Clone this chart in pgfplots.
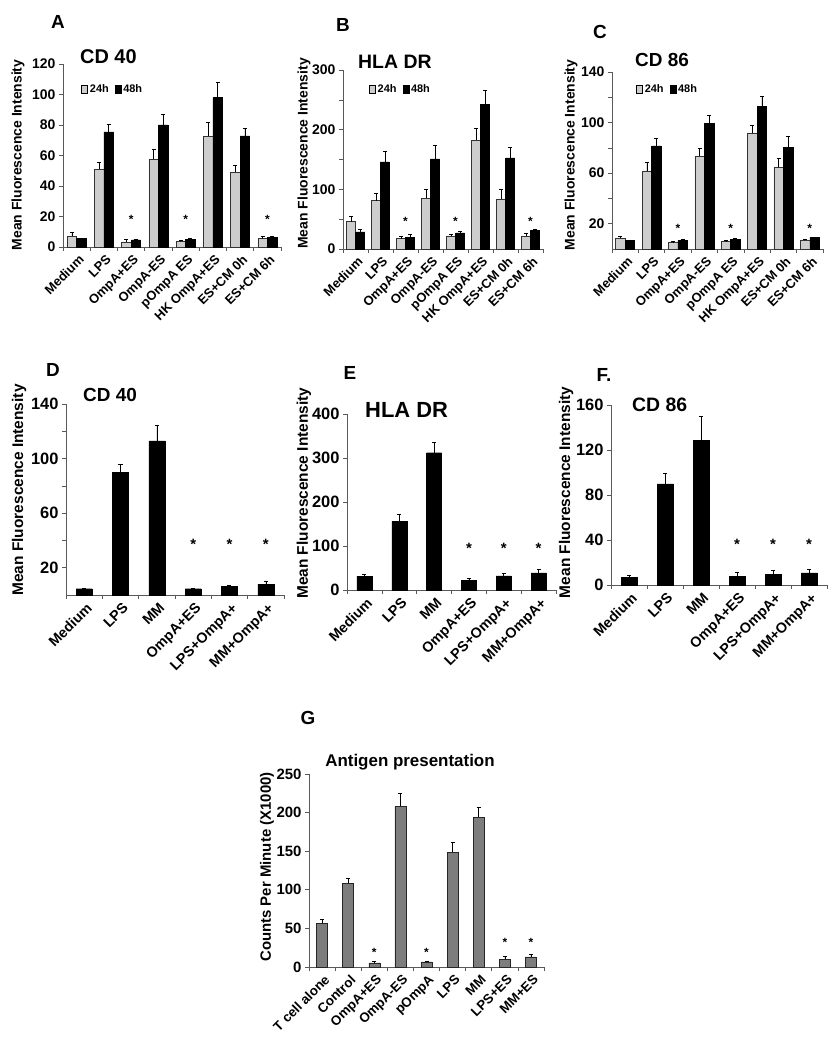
\documentclass[border=0pt]{standalone}
\usepackage{fontspec}
\setmainfont{Liberation Sans}
\usepackage{pgfplots}
\pgfplotsset{compat=1.18}
\definecolor{lgray}{RGB}{205,205,205}
\definecolor{mgray}{RGB}{125,125,125}
\newcommand{\fs}[1]{\fontsize{#1}{#1}\selectfont\bfseries}
\pgfplotsset{
  panel/.style={
    scale only axis, anchor=south west, clip=false,
    axis x line*=bottom, axis y line*=left,
    axis line style={line width=0.6bp, black!65},
    xmin=-0.5, ymin=0, enlargelimits=false,
    major x tick style={draw=none},
    tick style={line width=0.6bp, black!65},
    tick align=outside, major tick length=4bp, minor tick length=4bp,
    xticklabel style={rotate=45, anchor=north east, inner sep=1bp, yshift=-2bp},
    /pgf/number format/assume math mode=true,
    ybar,
    error bars/y dir=plus, error bars/y explicit,
    error bars/error bar style={black, line width=0.6bp},
    error bars/error mark options={black, rotate=90, mark size=2bp, line width=0.6bp},
    legend style={draw=none, fill=none, legend columns=2, anchor=west,
      /tikz/every even column/.append style={column sep=4bp}},
  },
  topcats/.style={xmax=7.5, xtick={0,...,7}, minor xtick={-0.5,0.5,...,7.5},
    xticklabels={Medium,LPS,OmpA+ES,OmpA-ES,pOmpA ES,HK OmpA+ES,ES+CM 0h,ES+CM 6h},
    xticklabel style={font=\fs{13}}, yticklabel style={font=\fs{14}},
    ylabel style={font=\fs{14}, anchor=center},
    legend style={font=\fs{11}}},
  botcats/.style={xmax=5.5, xtick={0,...,5}, minor xtick={-0.5,0.5,...,5.5},
    xticklabels={Medium,LPS,MM,OmpA+ES,LPS+OmpA+,MM+OmpA+},
    xticklabel style={font=\fs{14.4}}, yticklabel style={font=\fs{16.5}},
    ylabel style={font=\fs{15.5}, anchor=center}},
  gbar/.style={fill=lgray, draw=black!80, line width=0.4bp,
    legend image code/.code={\path[##1, draw=black, line width=0.5bp] (0bp,-4bp) rectangle (6bp,4bp);}},
  kbar/.style={fill=black, draw=black, line width=0.4bp,
    legend image code/.code={\path[##1, draw=black, line width=0.5bp] (0bp,-4bp) rectangle (6bp,4bp);}},
  stars/.style={only marks, mark=none, bar shift=0pt, forget plot,
    nodes near coords={*}, every node near coord/.append style={anchor=center, font=\fs{#1}}},
}
\begin{document}
\begin{tikzpicture}
\path[use as bounding box] (0bp,0bp) rectangle (837bp,1050bp);
% ---------------- A ----------------
\begin{axis}[panel, topcats, at={(63bp,803bp)}, width=218bp, height=183bp,
  ymax=120, ytick={0,20,...,120}, bar width=9.5bp,
  ylabel={Mean Fluorescence Intensity},
  ylabel style={at={(axis description cs:-0.206,0.503)}},
  legend style={at={(axis description cs:0.07,0.86)}}]
\addplot[gbar, bar shift=-4.75bp] table[x=x,y=y,y error=e] {
x y e
0 7 2.6
1 51 4.6
2 3.3 1.7
3 57.6 6.4
4 3.8 0.5
5 72.7 9.1
6 48.9 4.6
7 5.5 1.7
};
\addlegendentry{24h}
\addplot[kbar, bar shift=4.75bp] table[x=x,y=y,y error=e] {
x y e
0 5.5 0.4
1 75.5 5
2 4.6 0.5
3 80 7
4 5.2 0.3
5 98 9.8
6 72.9 5
7 6.5 0.5
};
\addlegendentry{48h}
\addplot[stars=12] coordinates {(2,18) (4,18) (7,18)};
\end{axis}
% ---------------- B ----------------
\begin{axis}[panel, topcats, at={(343bp,801bp)}, width=200bp, height=179bp,
  ymax=300, ytick={0,100,200,300}, minor ytick={50,150,250}, bar width=9bp,
  ylabel={Mean Fluorescence Intensity},
  ylabel style={at={(axis description cs:-0.195,0.534)}},
  legend style={at={(axis description cs:0.115,0.89)}}]
\addplot[gbar, bar shift=-4.5bp] table[x=x,y=y,y error=e] {
x y e
0 46 9.5
1 81 13
2 17.4 3.3
3 84.7 15
4 21.9 2.8
5 182 20
6 84 16
7 21.3 4.7
};
\addlegendentry{24h}
\addplot[kbar, bar shift=4.5bp] table[x=x,y=y,y error=e] {
x y e
0 28.6 4.4
1 146 18
2 19.6 5
3 151 22
4 27 2
5 242 24
6 152.5 18
7 30.8 2.8
};
\addlegendentry{48h}
\addplot[stars=12] coordinates {(2,47) (4,47) (7,47)};
\end{axis}
% ---------------- C ----------------
\begin{axis}[panel, topcats, at={(612bp,801bp)}, width=211bp, height=177bp,
  ymax=140, ytick={20,60,100,140}, minor ytick={40,80,120}, bar width=9.5bp,
  ylabel={Mean Fluorescence Intensity},
  ylabel style={at={(axis description cs:-0.194,0.531)}},
  legend style={at={(axis description cs:0.1,0.9)}}]
\addplot[gbar, bar shift=-4.75bp] table[x=x,y=y,y error=e] {
x y e
0 8.7 1
1 61.7 6.5
2 5.2 0.5
3 73.5 5.8
4 6 0.5
5 91.5 6
6 64.6 6.8
7 7.2 0.5
};
\addlegendentry{24h}
\addplot[kbar, bar shift=4.75bp] table[x=x,y=y,y error=e] {
x y e
0 6.8 0.3
1 81.6 6
2 6.8 0.5
3 99.2 6.3
4 7.6 0.5
5 112.9 7.6
6 80.4 8.4
7 9 0.5
};
\addlegendentry{48h}
\addplot[stars=12] coordinates {(2,16.5) (4,16.5) (7,16.5)};
\end{axis}
% ---------------- D ----------------
\begin{axis}[panel, botcats, at={(66bp,455bp)}, width=218bp, height=191bp,
  ymax=140, ytick={20,60,100,140}, minor ytick={40,80,120}, bar width=16bp,
  ylabel={Mean Fluorescence Intensity},
  ylabel style={at={(axis description cs:-0.215,0.55)}}]
\addplot[kbar, bar shift=0pt] table[x=x,y=y,y error=e] {
x y e
0 4.6 0.4
1 89.7 6
2 113 11.4
3 4.6 0.3
4 6.1 0.8
5 8 1.8
};
\addplot[stars=15] coordinates {(3,37) (4,37) (5,37)};
\end{axis}
% ---------------- E ----------------
\begin{axis}[panel, botcats, at={(347bp,460bp)}, width=209bp, height=176bp,
  ymax=400, ytick={0,100,...,400}, bar width=15bp,
  ylabel={Mean Fluorescence Intensity},
  ylabel style={at={(axis description cs:-0.206,0.55)}}]
\addplot[kbar, bar shift=0pt] table[x=x,y=y,y error=e] {
x y e
0 31.8 4.2
1 156 16.7
2 312 23
3 22 4
4 32 6
5 39 7
};
\addplot[stars=15] coordinates {(3,95) (4,95) (5,95)};
\end{axis}
% ---------------- F ----------------
\begin{axis}[panel, botcats, at={(611bp,465bp)}, width=216bp, height=180bp,
  ymax=160, ytick={0,40,...,160}, bar width=16bp,
  ylabel={Mean Fluorescence Intensity},
  ylabel style={at={(axis description cs:-0.208,0.514)}}]
\addplot[kbar, bar shift=0pt] table[x=x,y=y,y error=e] {
x y e
0 6.8 2.2
1 89.9 9.5
2 128.6 21.4
3 7.7 3.3
4 9.2 3.8
5 10.7 3.3
};
\addplot[stars=15] coordinates {(3,36) (4,36) (5,36)};
\end{axis}
% ---------------- G ----------------
\begin{axis}[panel, at={(309bp,83bp)}, width=235bp, height=193bp,
  xmax=8.5, xtick={0,...,8}, minor xtick={-0.5,0.5,...,8.5},
  xticklabels={T cell alone,Control,OmpA+ES,OmpA-ES,pOmpA,LPS,MM,LPS+ES,MM+ES},
  xticklabel style={font=\fs{13.4}}, yticklabel style={font=\fs{15}},
  ymax=250, ytick={0,50,...,250}, bar width=11bp,
  ylabel={Counts Per Minute (X1000)},
  ylabel style={font=\fs{15}, anchor=center, at={(axis description cs:-0.179,0.518)}}]
\addplot[fill=mgray, draw=black!85, line width=0.5bp, bar shift=0pt] table[x=x,y=y,y error=e] {
x y e
0 56.4 5.2
1 108.4 7
2 5.2 1.8
3 208 16.6
4 6.5 1.3
5 148.7 13
6 194.3 12
7 10 3.4
8 13 3
};
\addplot[stars=12] coordinates {(2,19) (4,19) (7,32.5) (8,32.5)};
\end{axis}
% ---------------- letters and titles ----------------
\node[font=\fs{19}] at (58bp,1028bp) {A};
\node[font=\fs{19}] at (343bp,1025bp) {B};
\node[font=\fs{19}] at (600bp,1018bp) {C};
\node[font=\fs{19}] at (53bp,680bp) {D};
\node[font=\fs{19}] at (350bp,677bp) {E};
\node[font=\fs{19}] at (604bp,675bp) {F.};
\node[font=\fs{19}] at (308bp,332bp) {G};
\node[font=\fs{20}, anchor=west, inner sep=0pt] at (80bp,993bp) {CD 40};
\node[font=\fs{19.5}, anchor=west, inner sep=0pt] at (358bp,988bp) {HLA DR};
\node[font=\fs{19}, anchor=west, inner sep=0pt] at (635bp,990bp) {CD 86};
\node[font=\fs{19}, anchor=west, inner sep=0pt] at (83bp,655bp) {CD 40};
\node[font=\fs{22}, anchor=west, inner sep=0pt] at (365bp,640bp) {HLA DR};
\node[font=\fs{19.5}, anchor=west, inner sep=0pt] at (632bp,645bp) {CD 86};
\node[font=\fs{17}] at (410bp,288bp) {Antigen presentation};
\end{tikzpicture}
\end{document}
